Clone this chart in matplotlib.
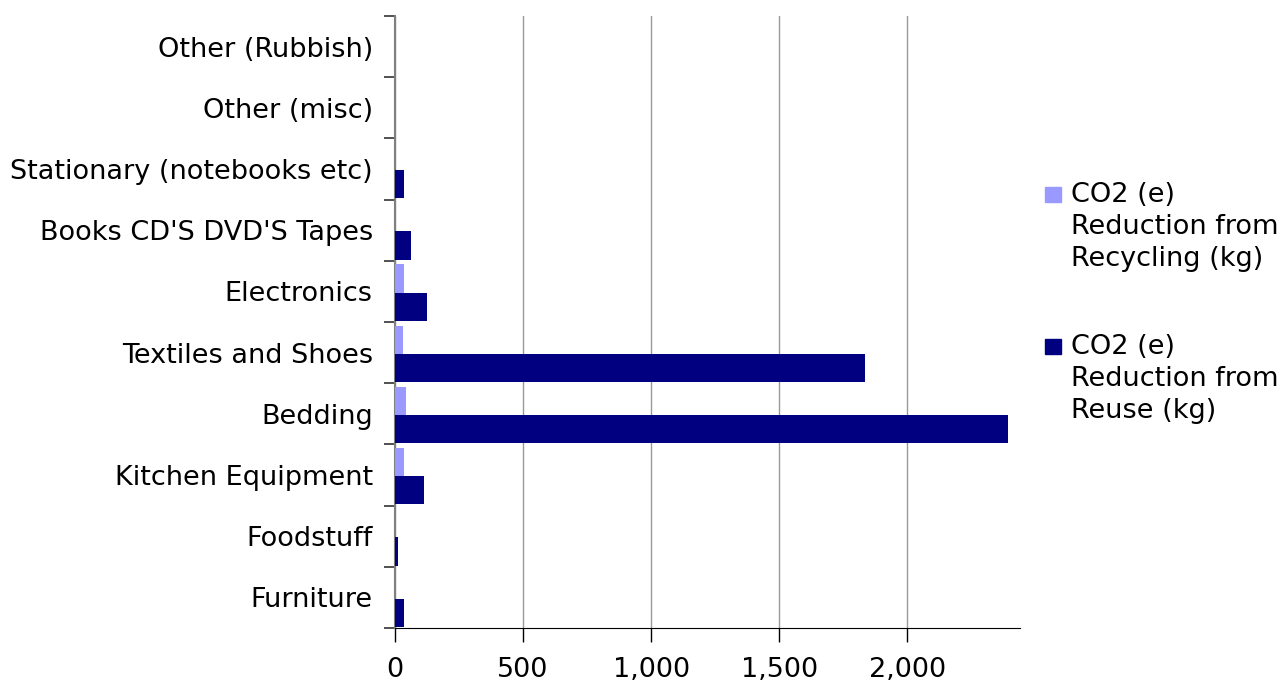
import matplotlib
matplotlib.use("Agg")
import matplotlib.pyplot as plt
import numpy as np
from matplotlib.ticker import FuncFormatter, FixedLocator
from matplotlib.patches import Rectangle

categories = ["Furniture", "Foodstuff", "Kitchen Equipment", "Bedding",
              "Textiles and Shoes", "Electronics", "Books CD'S DVD'S Tapes",
              "Stationary (notebooks etc)", "Other (misc)", "Other (Rubbish)"]
recycling = [0, 0, 36, 44, 32, 36, 0, 0, 0, 0]
reuse = [36, 13, 114, 2393, 1836, 125, 63, 36, 0, 0]
x_ticks = [0, 500, 1000, 1500, 2000]
series_labels = ["CO2 (e)\nReduction from\nRecycling (kg)",
                 "CO2 (e)\nReduction from\nReuse (kg)"]
series_colors = ["#9999FF", "#000080"]

W, H = 1282, 682
FS = 19.5
plt.rcParams['font.family'] = ['DejaVu Sans']
fig = plt.figure(figsize=(W/100, H/100), dpi=100)
ax = fig.add_axes([395/W, 1 - 628/H, (1020-395)/W, (628-16)/H])

y = np.arange(len(categories))
h = 0.46
ax.barh(y + h/2 - 0.02, recycling, height=h, color=series_colors[0], zorder=3)
ax.barh(y - h/2 - 0.02, reuse, height=h, color=series_colors[1], zorder=3)

ax.set_ylim(-0.5, len(categories) - 0.5)
ax.set_xlim(0, 2440)
ax.xaxis.set_major_locator(FixedLocator(x_ticks))
ax.xaxis.set_major_formatter(FuncFormatter(lambda v, p: f"{int(v):,}"))
ax.grid(axis="x", color="#999999", linewidth=1, zorder=0)

ax.set_yticks(y)
ax.set_yticklabels(categories, fontsize=FS)
ax.set_yticks(np.arange(-0.5, len(categories), 1), minor=True)
ax.tick_params(axis="y", which="major", length=0, pad=16)
ax.tick_params(axis="y", which="minor", length=8, width=1.2, color="#333333", direction="out")
ax.tick_params(axis="x", length=10, width=1, direction="out", labelsize=FS, pad=11)

for s in ["top", "right"]:
    ax.spines[s].set_visible(False)
ax.spines["left"].set_color("#808080")
ax.spines["left"].set_linewidth(1.5)
ax.spines["bottom"].set_color("#000000")

# legend (manual, square aligned with first text line)
tops = [182, 334]
for top, lab, col in zip(tops, series_labels, series_colors):
    fig.add_artist(Rectangle((1045/W, 1 - (top + 20)/H), 16/W, 15/H,
                             transform=fig.transFigure, color=col))
    fig.text(1071/W, 1 - top/H, lab, fontsize=FS, va="top", ha="left",
             linespacing=1.29)

fig.savefig("out.png", dpi=100)
